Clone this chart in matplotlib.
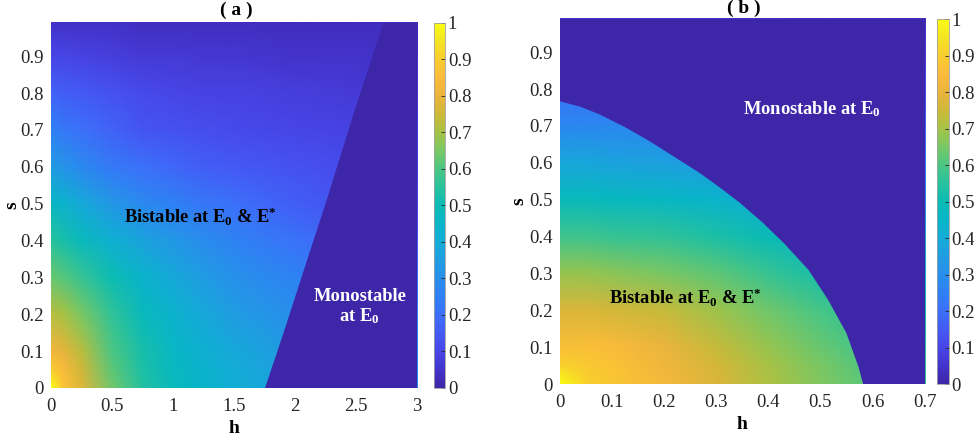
import numpy as np
import matplotlib
matplotlib.use('Agg')
import matplotlib.pyplot as plt
from matplotlib.colors import LinearSegmentedColormap, Normalize
from matplotlib.image import NonUniformImage

plt.rcParams['font.family'] = ['Liberation Serif', 'DejaVu Serif']
plt.rcParams['mathtext.fontset'] = 'custom'
plt.rcParams['mathtext.rm'] = 'Liberation Serif'
plt.rcParams['mathtext.bf'] = 'Liberation Serif:bold'
plt.rcParams['mathtext.it'] = 'Liberation Serif:italic'

# ---------------- data ----------------
# Panel (a): grid of the field over h (columns) and s (rows)
h_a = [0.0, 0.1, 0.25, 0.5, 0.75, 1.0, 1.25, 1.5, 2.0, 2.5, 3.0]
s_a = [0.0, 0.05, 0.1, 0.2, 0.3, 0.4, 0.5, 0.6, 0.7, 0.8, 0.9, 1.0]
z_a = [
    [1.00, 0.87, 0.77, 0.64, 0.54, 0.48, 0.44, 0.41, 0.36, 0.32, 0.29],
    [0.89, 0.84, 0.75, 0.62, 0.53, 0.47, 0.43, 0.40, 0.35, 0.31, 0.28],
    [0.82, 0.79, 0.72, 0.60, 0.52, 0.46, 0.42, 0.39, 0.34, 0.30, 0.27],
    [0.72, 0.70, 0.65, 0.56, 0.48, 0.43, 0.39, 0.35, 0.30, 0.26, 0.23],
    [0.63, 0.61, 0.57, 0.50, 0.44, 0.39, 0.35, 0.31, 0.26, 0.22, 0.19],
    [0.55, 0.52, 0.48, 0.42, 0.37, 0.33, 0.29, 0.26, 0.21, 0.17, 0.15],
    [0.46, 0.43, 0.39, 0.33, 0.28, 0.25, 0.22, 0.20, 0.16, 0.13, 0.11],
    [0.34, 0.32, 0.28, 0.23, 0.20, 0.18, 0.16, 0.15, 0.13, 0.11, 0.09],
    [0.25, 0.23, 0.20, 0.17, 0.14, 0.13, 0.12, 0.11, 0.10, 0.09, 0.08],
    [0.17, 0.16, 0.15, 0.13, 0.11, 0.10, 0.09, 0.09, 0.08, 0.07, 0.06],
    [0.10, 0.10, 0.09, 0.08, 0.07, 0.07, 0.06, 0.06, 0.05, 0.05, 0.04],
    [0.04, 0.04, 0.04, 0.04, 0.03, 0.03, 0.03, 0.03, 0.03, 0.03, 0.03],
]
# boundary of the bistable region in (a)
bound_h_a = [1.754, 1.904, 2.082, 2.260, 2.478, 2.724]
bound_s_a = [0.000, 0.148, 0.330, 0.510, 0.742, 0.990]

# Panel (b)
h_b = [0.0, 0.05, 0.1, 0.2, 0.3, 0.4, 0.5, 0.6, 0.7]
s_b = [0.0, 0.05, 0.1, 0.2, 0.3, 0.4, 0.5, 0.6, 0.7, 0.8, 0.9, 1.0]
z_b = [
    [1.00, 0.91, 0.88, 0.83, 0.77, 0.71, 0.66, 0.61, 0.57],
    [0.91, 0.89, 0.87, 0.82, 0.76, 0.70, 0.65, 0.60, 0.56],
    [0.86, 0.86, 0.85, 0.80, 0.74, 0.68, 0.63, 0.58, 0.54],
    [0.77, 0.77, 0.76, 0.74, 0.69, 0.64, 0.59, 0.54, 0.50],
    [0.68, 0.68, 0.67, 0.65, 0.62, 0.57, 0.52, 0.48, 0.44],
    [0.58, 0.58, 0.57, 0.56, 0.53, 0.49, 0.45, 0.41, 0.37],
    [0.48, 0.48, 0.47, 0.46, 0.44, 0.41, 0.37, 0.33, 0.30],
    [0.38, 0.38, 0.37, 0.36, 0.34, 0.32, 0.29, 0.26, 0.23],
    [0.28, 0.28, 0.28, 0.27, 0.25, 0.23, 0.21, 0.19, 0.17],
    [0.20, 0.20, 0.20, 0.19, 0.18, 0.17, 0.15, 0.14, 0.12],
    [0.12, 0.12, 0.12, 0.12, 0.11, 0.10, 0.09, 0.09, 0.08],
    [0.05, 0.05, 0.05, 0.05, 0.05, 0.04, 0.04, 0.04, 0.04],
]
bound_h_b = [0.000, 0.040, 0.077, 0.125, 0.173, 0.220, 0.269, 0.310, 0.346, 0.390,
             0.430, 0.477, 0.515, 0.550, 0.573, 0.582]
bound_s_b = [0.767, 0.752, 0.731, 0.697, 0.658, 0.616, 0.572, 0.530, 0.491, 0.437,
             0.382, 0.310, 0.228, 0.138, 0.047, 0.000]

xticks_a = [0, 0.5, 1, 1.5, 2, 2.5, 3]
xticks_b = [0, 0.1, 0.2, 0.3, 0.4, 0.5, 0.6, 0.7]
yticks = [0, 0.1, 0.2, 0.3, 0.4, 0.5, 0.6, 0.7, 0.8, 0.9]
cticks = [0, 0.1, 0.2, 0.3, 0.4, 0.5, 0.6, 0.7, 0.8, 0.9, 1]

# ---------------- parula-like colormap ----------------
parula_hex = ['#3e26a8', '#4434cd', '#4846e8', '#445af5', '#3c70fa', '#3080f5',
              '#288fec', '#209de2', '#14acd7', '#08b6c8', '#0abcb4', '#28c29e',
              '#4bc684', '#78c865', '#a5c346', '#cdb939', '#eab43c', '#fbbb3c',
              '#f9cd2f', '#f4e424', '#f9fb14']
parula = LinearSegmentedColormap.from_list('parula', parula_hex, N=256)
norm = Normalize(0, 1)
tick_color = '#262626'
fs_tick = 13.5

fig = plt.figure(figsize=(9.74, 4.42), dpi=100)

panels = [
    dict(h=h_a, s=s_a, z=z_a, bh=bound_h_a, bs=bound_s_a, xmax=3.0, xticks=xticks_a,
         ax_rect=[0.0524, 0.1222, 0.3758, 0.8258], cax_rect=[0.4456, 0.1222, 0.0113, 0.8258],
         title='( a )', title_xy=(0.2423, 0.977), ylab_x=-0.084),
    dict(h=h_b, s=s_b, z=z_b, bh=bound_h_b, bs=bound_s_b, xmax=0.7, xticks=xticks_b,
         ax_rect=[0.5746, 0.1312, 0.3747, 0.8258], cax_rect=[0.9620, 0.1312, 0.0120, 0.8258],
         title='( b )', title_xy=(0.764, 0.980), ylab_x=-0.088),
]

ymax = 0.99
axes = []
for i, p in enumerate(panels):
    ax = fig.add_axes(p['ax_rect'])
    im = NonUniformImage(ax, interpolation='bilinear', extent=(0, p['xmax'], 0, ymax),
                         cmap=parula, norm=norm)
    im.set_data(np.array(p['h']), np.array(p['s']), np.array(p['z']))
    ax.add_image(im)
    # monostable region (value 0)
    if i == 0:
        poly_h = [p['bh'][0]] + list(p['bh']) + [p['xmax'] + 0.1, p['xmax'] + 0.1]
        poly_s = [-0.1] + list(p['bs']) + [ymax + 0.1, -0.1]
    else:
        poly_h = [-0.1] + list(p['bh']) + [p['xmax'] + 0.1, p['xmax'] + 0.1, -0.1]
        poly_s = [p['bs'][0]] + list(p['bs']) + [-0.1, ymax + 0.1, ymax + 0.1]
    ax.fill(poly_h, poly_s, color=parula(0.0), lw=0, zorder=2)
    ax.set_xlim(0, p['xmax'])
    ax.set_ylim(0, ymax)
    ax.set_xticks(p['xticks'])
    ax.set_xticklabels([f'{t:g}' for t in p['xticks']])
    ax.set_yticks(yticks)
    ax.set_yticklabels([f'{t:g}' for t in yticks])
    ax.tick_params(length=0, labelsize=fs_tick, colors=tick_color, pad=5)
    ax.tick_params(axis='x', pad=7)
    for sp in ax.spines.values():
        sp.set_visible(False)
    ax.set_xlabel('h', fontsize=14, fontweight='bold', labelpad=4, color='black')
    ax.set_ylabel('s', fontsize=14, fontweight='bold', color='black')
    ax.yaxis.set_label_coords(p['ylab_x'], 0.5)

    cax = fig.add_axes(p['cax_rect'])
    cb = fig.colorbar(im, cax=cax, ticks=cticks)
    cb.ax.set_yticklabels([f'{t:g}' for t in cticks])
    cb.ax.tick_params(direction='in', length=3, width=0.6, colors=tick_color,
                      labelsize=fs_tick, pad=2)
    cb.outline.set_edgecolor('#a0a0a0')
    cb.outline.set_linewidth(0.6)

    fig.text(p['title_xy'][0], p['title_xy'][1], p['title'], ha='center', va='center',
             fontsize=14, fontweight='bold')
    axes.append(ax)

ax_a, ax_b = axes
bist = r'Bistable at E$_{\mathbf{0}}$ & E$^{\mathbf{*}}$'
ax_a.text(0.60, 0.446, bist, fontsize=13.3, fontweight='bold', color='black',
          ha='left', va='baseline', zorder=5)
ax_a.text(2.53, 0.237, 'Monostable', fontsize=13.3, fontweight='bold', color='white',
          ha='center', va='baseline', zorder=5)
ax_a.text(2.53, 0.182, r'at E$_{\mathbf{0}}$', fontsize=13.3, fontweight='bold', color='white',
          ha='center', va='baseline', zorder=5)

ax_b.text(0.3516, 0.731, r'Monostable at E$_{\mathbf{0}}$', fontsize=13.3, fontweight='bold',
          color='white', ha='left', va='baseline', zorder=5)
ax_b.text(0.094, 0.215, bist, fontsize=13.3, fontweight='bold', color='black',
          ha='left', va='baseline', zorder=5)

fig.savefig('out.png', dpi=100)
